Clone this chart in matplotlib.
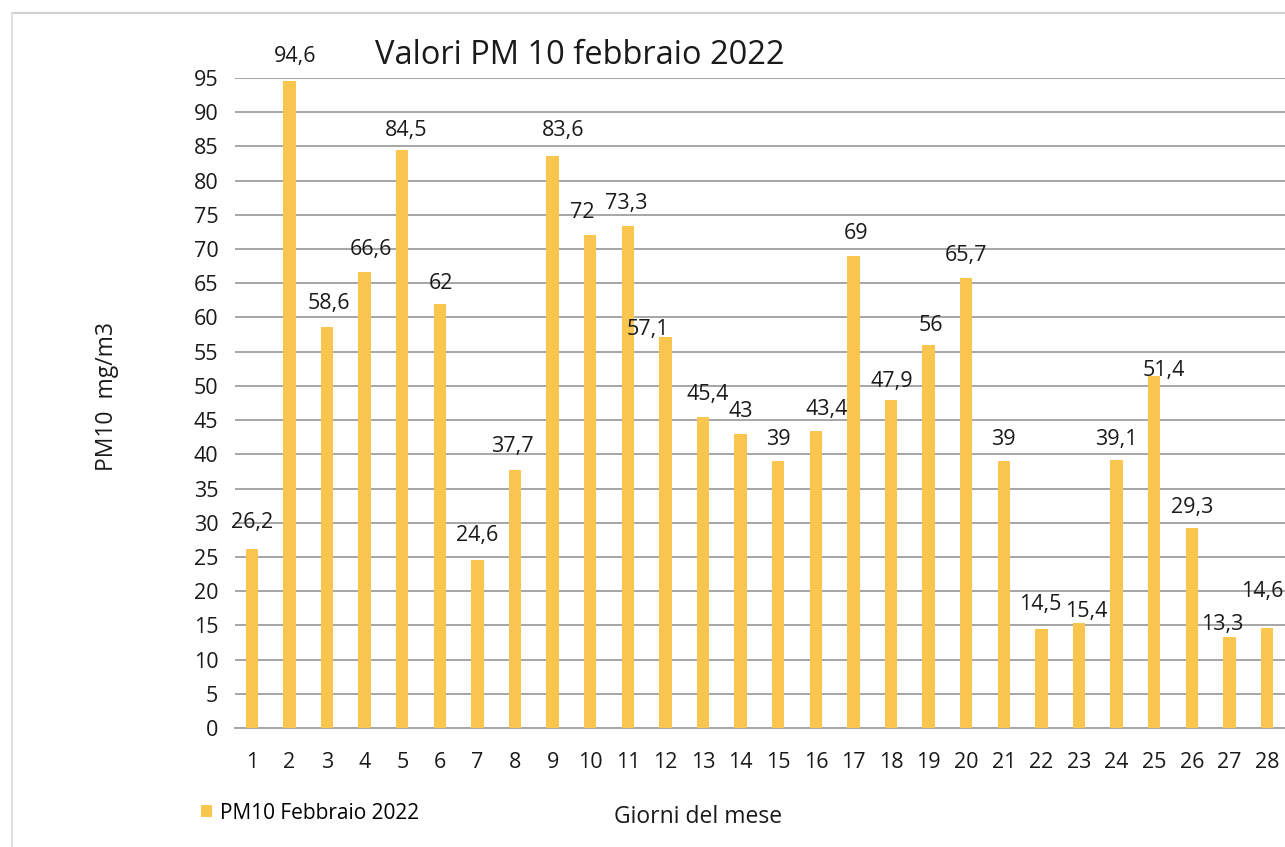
import matplotlib.pyplot as plt
from matplotlib.lines import Line2D
import numpy as np

plt.rcParams["font.family"] = ["Open Sans", "DejaVu Sans"]

# data
giorni = list(range(1, 29))
pm10 = [26.2, 94.6, 58.6, 66.6, 84.5, 62, 24.6, 37.7, 83.6, 72,
        73.3, 57.1, 45.4, 43, 39, 43.4, 69, 47.9, 56, 65.7,
        39, 14.5, 15.4, 39.1, 51.4, 29.3, 13.3, 14.6]
etichette = [f"{v:g}".replace(".", ",") for v in pm10]

# where Excel left each data label (day position, value position)
label_pos = [(1.0, 30.1), (2.14, 98.1), (3.05, 62.1), (4.16, 70.0), (5.1, 87.3),
             (6.03, 65.0), (7.0, 28.2), (7.94, 41.1), (9.27, 87.3), (9.78, 75.3),
             (10.97, 76.7), (11.53, 58.2), (13.13, 48.8), (14.0, 46.2), (15.0, 42.2),
             (16.3, 46.5), (17.06, 72.3), (18.02, 50.6), (19.06, 58.8), (20.0, 69.0),
             (21.0, 42.2), (21.96, 18.0), (23.2, 17.1), (24.0, 42.2), (25.26, 52.2),
             (26.0, 32.2), (26.8, 15.1), (27.88, 20.0)]

bar_color = "#FAC650"
grid_color = "#A6A6A6"
txt_color = "#1a1a1a"

fig = plt.figure(figsize=(12.85, 8.47), dpi=100)
ax = fig.add_axes([235 / 1285, 119 / 847, 1 - 235 / 1285, 650 / 847])

bars = ax.bar(giorni, pm10, width=0.33, color=bar_color, zorder=3,
              label="PM10 Febbraio 2022")

for (x, y), txt in zip(label_pos, etichette):
    ax.text(x, y, txt, ha="center", va="center", fontsize=15.5, color=txt_color,
            zorder=4, clip_on=False)

ax.set_xlim(0.55, 28.48)
ax.set_ylim(0, 95)
ax.set_yticks(np.arange(0, 96, 5))
ax.set_xticks(giorni)
ax.tick_params(axis="both", length=0, labelsize=15.5, colors=txt_color)
ax.tick_params(axis="y", pad=12)
ax.tick_params(axis="x", pad=17)

ax.grid(axis="y", color=grid_color, linewidth=1.4, zorder=0)
ax.set_axisbelow(True)
for s in ["top", "right", "left"]:
    ax.spines[s].set_visible(False)
ax.spines["bottom"].set_color(grid_color)
ax.spines["bottom"].set_linewidth(1.4)

ax.set_ylabel("PM10  mg/m3", fontsize=16.5, color=txt_color)
ax.yaxis.set_label_coords(-0.11, 0.51)
ax.set_xlabel("Giorni del mese", fontsize=16.5, color=txt_color)
ax.xaxis.set_label_coords(0.441, -0.118)

fig.text(580 / 1285, 1 - 55 / 847, "Valori PM 10 febbraio 2022", ha="center",
         va="center", fontsize=23.5, color=txt_color)

fig.legend(handles=[bars], loc="center left",
           bbox_to_anchor=(182 / 1285, 1 - 813 / 847), frameon=False,
           fontsize=15, handlelength=0.55, handleheight=0.55, handletextpad=0.35)

# chart area frame from the scan
fig.add_artist(Line2D([12 / 1285, 1], [1 - 13 / 847] * 2, color="#D0D0D0", lw=1.5))
fig.add_artist(Line2D([12 / 1285] * 2, [0, 1 - 13 / 847], color="#E0E0E0", lw=1.5))

fig.savefig("out.png")
